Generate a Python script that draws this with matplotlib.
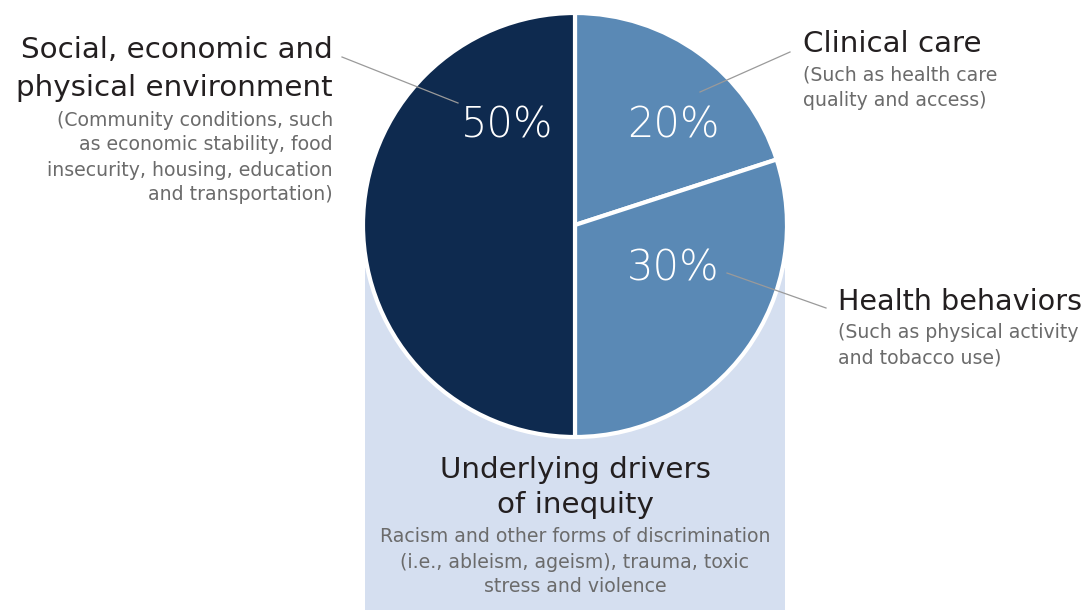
import matplotlib.pyplot as plt
from matplotlib.patches import Rectangle

# data
shares = [20, 30, 50]
pct_labels = ['20%', '30%', '50%']
slice_colors = ['#5a89b5', '#5a89b5', '#0e2a4f']

W, H = 1086, 610
DARK = '#231f20'
GREY = '#6b6b6b'
FONT = 'DejaVu Sans'
TS = 21.2   # title size
SS = 13.6   # sub text size

def Y(y):
	# pixel row -> data y
	return H - y

fig = plt.figure(figsize=(W / 100, H / 100), dpi=100)
ax = fig.add_axes([0, 0, 1, 1])

# background box behind lower half
ax.add_patch(Rectangle((365, Y(610)), 420, 610 - 268, facecolor='#d5dff0', edgecolor='none', zorder=0))

cx, cy, r = 575, Y(225), 212
wedges, _ = ax.pie(shares, startangle=90, counterclock=False, center=(cx, cy), radius=r,
	colors=slice_colors, wedgeprops=dict(edgecolor='white', linewidth=3))
for w in wedges:
	w.set_zorder(2)

ax.set_xlim(0, W)
ax.set_ylim(0, H)
ax.set_aspect('equal')
ax.axis('off')

# percentages
pct_pos = [(673, 125), (673, 268), (507, 125)]
for lab, (x, y) in zip(pct_labels, pct_pos):
	ax.text(x, Y(y), lab, color='white', fontsize=30, fontweight='light', ha='center', va='center',
		family=FONT, zorder=4)

# leader lines
leaders = [((342, 57), (458, 103)), ((700, 92), (790, 52)), ((727, 273), (826, 308))]
for (x0, y0), (x1, y1) in leaders:
	ax.plot([x0, x1], [Y(y0), Y(y1)], color='#9a9a9a', lw=0.9, zorder=3)

# left label
ax.text(333, Y(50), 'Social, economic and', color=DARK, fontsize=TS, ha='right', va='center', family=FONT)
ax.text(333, Y(88), 'physical environment', color=DARK, fontsize=TS, ha='right', va='center', family=FONT)
left_sub = ['(Community conditions, such', 'as economic stability, food',
	'insecurity, housing, education', 'and transportation)']
for i, s in enumerate(left_sub):
	ax.text(333, Y(120 + 25 * i), s, color=GREY, fontsize=SS, ha='right', va='center', family=FONT)

# clinical care
ax.text(803, Y(44), 'Clinical care', color=DARK, fontsize=TS, ha='left', va='center', family=FONT)
for i, s in enumerate(['(Such as health care', 'quality and access)']):
	ax.text(803, Y(75 + 26 * i), s, color=GREY, fontsize=SS, ha='left', va='center', family=FONT)

# health behaviors
ax.text(838, Y(302), 'Health behaviors', color=DARK, fontsize=20.6, ha='left', va='center', family=FONT)
for i, s in enumerate(['(Such as physical activity', 'and tobacco use)']):
	ax.text(838, Y(333 + 25 * i), s, color=GREY, fontsize=SS, ha='left', va='center', family=FONT)

# underlying drivers
ax.text(575, Y(470), 'Underlying drivers', color=DARK, fontsize=TS, ha='center', va='center', family=FONT)
ax.text(575, Y(505), 'of inequity', color=DARK, fontsize=TS, ha='center', va='center', family=FONT)
bottom_sub = ['Racism and other forms of discrimination', '(i.e., ableism, ageism), trauma, toxic',
	'stress and violence']
for i, s in enumerate(bottom_sub):
	ax.text(575, Y(537 + 25 * i), s, color=GREY, fontsize=SS, ha='center', va='center', family=FONT)

fig.savefig('out.png', dpi=100)
